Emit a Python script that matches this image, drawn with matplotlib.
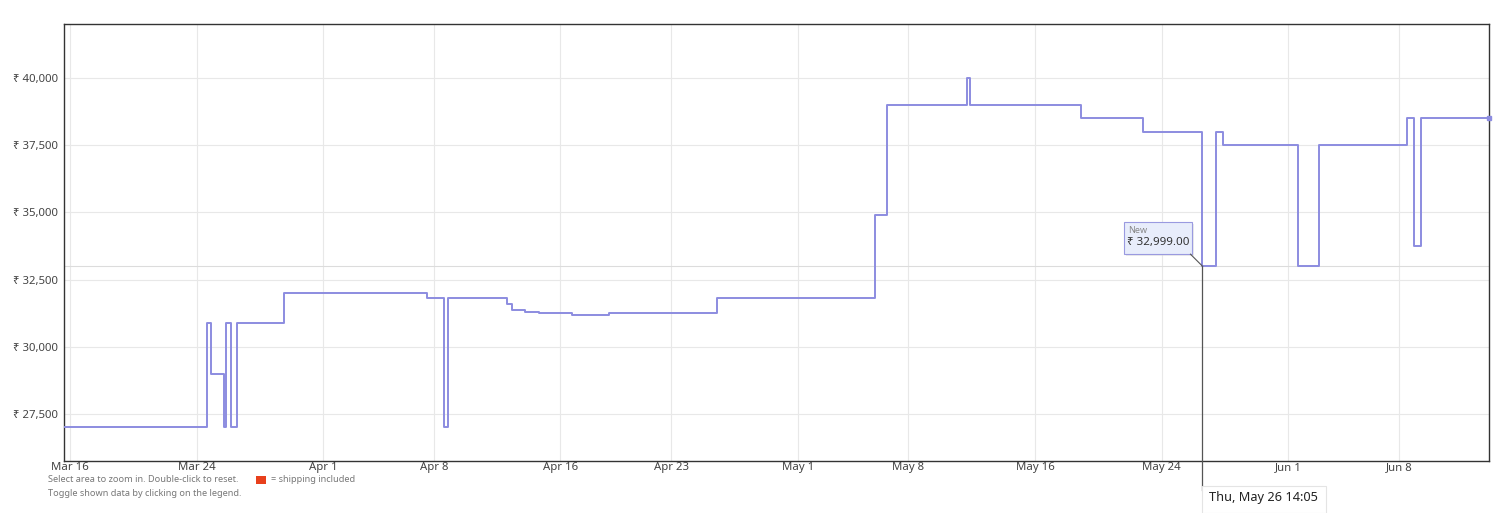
import matplotlib
matplotlib.use("Agg")
import matplotlib.pyplot as plt
import matplotlib.dates as mdates
import matplotlib.ticker as ticker
from matplotlib.patches import Rectangle
from matplotlib.transforms import IdentityTransform, blended_transform_factory
import pandas as pd

plt.rcParams['font.family'] = ['Noto Sans', 'DejaVu Sans']

# price history (step changes)
times = ["2022-03-15 14:55", "2022-03-24 16:20", "2022-03-24 22:20", "2022-03-25 17:15",
         "2022-03-25 20:10", "2022-03-26 04:50", "2022-03-26 13:00", "2022-03-29 12:10",
         "2022-04-07 13:10", "2022-04-08 15:20", "2022-04-08 21:25", "2022-04-12 15:00",
         "2022-04-12 22:35", "2022-04-13 17:50", "2022-04-14 16:00", "2022-04-16 17:05",
         "2022-04-19 01:40", "2022-04-25 21:05", "2022-05-05 21:10", "2022-05-06 15:50",
         "2022-05-11 17:15", "2022-05-11 21:50", "2022-05-18 21:50", "2022-05-22 19:25",
         "2022-05-26 14:05", "2022-05-27 11:20", "2022-05-27 21:40", "2022-06-01 15:00",
         "2022-06-02 23:15", "2022-06-08 12:15", "2022-06-08 23:00", "2022-06-09 09:05",
         "2022-06-13 16:45"]
prices = [26999, 30899, 28999, 26999, 30899, 26999, 30899, 31999,
          31799, 26999, 31799, 31590, 31370, 31300, 31250, 31170,
          31250, 31799, 34899, 38999, 39999, 38999, 38499, 37999,
          32999, 37999, 37499, 32999, 37499, 38499, 33750, 38499,
          38499]

y_ticks = [27500, 30000, 32500, 35000, 37500, 40000]
x_ticks = ["2022-03-16", "2022-03-24", "2022-04-01", "2022-04-08", "2022-04-16", "2022-04-23",
           "2022-05-01", "2022-05-08", "2022-05-16", "2022-05-24", "2022-06-01", "2022-06-08"]

hover_time = "2022-05-26 14:05"
hover_price = 32999

t = pd.to_datetime(times)
line_color = '#8c8ce0'

fig = plt.figure(figsize=(14.93, 5.13), dpi=100)
ax = fig.add_axes([64 / 1493, 1 - 461 / 513, (1489 - 64) / 1493, (461 - 24) / 513])

ax.plot(t, prices, drawstyle='steps-post', color=line_color, lw=1.4, zorder=3)
ax.plot(t[-1:], prices[-1:], marker='s', ms=3.5, color=line_color, clip_on=False, zorder=4)

ax.set_xlim(t[0], t[-1])
ax.set_ylim(25752, 42009)

ax.set_yticks(y_ticks)
ax.yaxis.set_major_formatter(ticker.FuncFormatter(lambda v, pos: f"₹ {int(v):,}"))
ax.set_xticks(pd.to_datetime(x_ticks))
ax.xaxis.set_major_formatter(mdates.DateFormatter('%b %-d'))
ax.tick_params(length=0, labelsize=8.2, labelcolor='#444444')
ax.tick_params(axis='x', pad=1)
ax.tick_params(axis='y', pad=4)
ax.grid(True, color='#e8e8e8', lw=0.8)
ax.set_axisbelow(True)
for s in ax.spines.values():
    s.set_color('#333333')
    s.set_linewidth(1)

# hover crosshair
ht = pd.to_datetime(hover_time)
ax.axhline(hover_price, color='#dcdcdc', lw=0.8, zorder=2)
bt = blended_transform_factory(ax.transData, ax.transAxes)
y_frac = (hover_price - 25752) / (42009 - 25752)
ax.plot([ht, ht], [y_frac, -0.066], transform=bt, color='#555555', lw=0.9, clip_on=False, zorder=5)

fig.canvas.draw()
px, py = ax.transData.transform((mdates.date2num(ht), hover_price))
ident = IdentityTransform()

# value tooltip
bx0, by0 = px - 78, py + 12
fig.add_artist(Rectangle((bx0 + 2, by0 - 2), 68, 32, transform=ident, facecolor='#d8d8d8',
                         edgecolor='none', alpha=0.5, zorder=6))
fig.add_artist(Rectangle((bx0, by0), 68, 32, transform=ident, facecolor='#e8edfb',
                         edgecolor='#9a9ae0', lw=0.8, zorder=7))
fig.add_artist(plt.Line2D([bx0 + 66, px], [by0, py], transform=ident, color='#555555', lw=0.8, zorder=7))
fig.text(bx0 + 4, by0 + 24, "New", transform=ident, fontsize=6.5, color='#888888', va='center', zorder=8)
fig.text(bx0 + 3, by0 + 12, f"₹ {hover_price:,}.00", transform=ident, fontsize=8.3, color='#333333',
         va='center', zorder=8)

# date tooltip
dy = 513 - 498
fig.add_artist(Rectangle((px, 0), 124, 27, transform=ident, facecolor='white',
                         edgecolor='#e4e4e4', lw=0.8, zorder=6))
fig.text(px + 7, dy, ht.strftime('%a, %b %-d %H:%M'), transform=ident, fontsize=9.2,
         color='#222222', va='center', zorder=8)

# footer notes
fig.text(48 / 1493, 1 - 480 / 513, "Select area to zoom in. Double-click to reset.",
         fontsize=6.6, color='#777777', va='center')
fig.add_artist(Rectangle((256 / 1493, 1 - 484 / 513), 10 / 1493, 8 / 513,
                         transform=fig.transFigure, facecolor='#e8401c', edgecolor='none'))
fig.text(271 / 1493, 1 - 480 / 513, "= shipping included", fontsize=6.6, color='#777777', va='center')
fig.text(48 / 1493, 1 - 494 / 513, "Toggle shown data by clicking on the legend.",
         fontsize=6.6, color='#777777', va='center')

fig.savefig('out.png', dpi=100)
